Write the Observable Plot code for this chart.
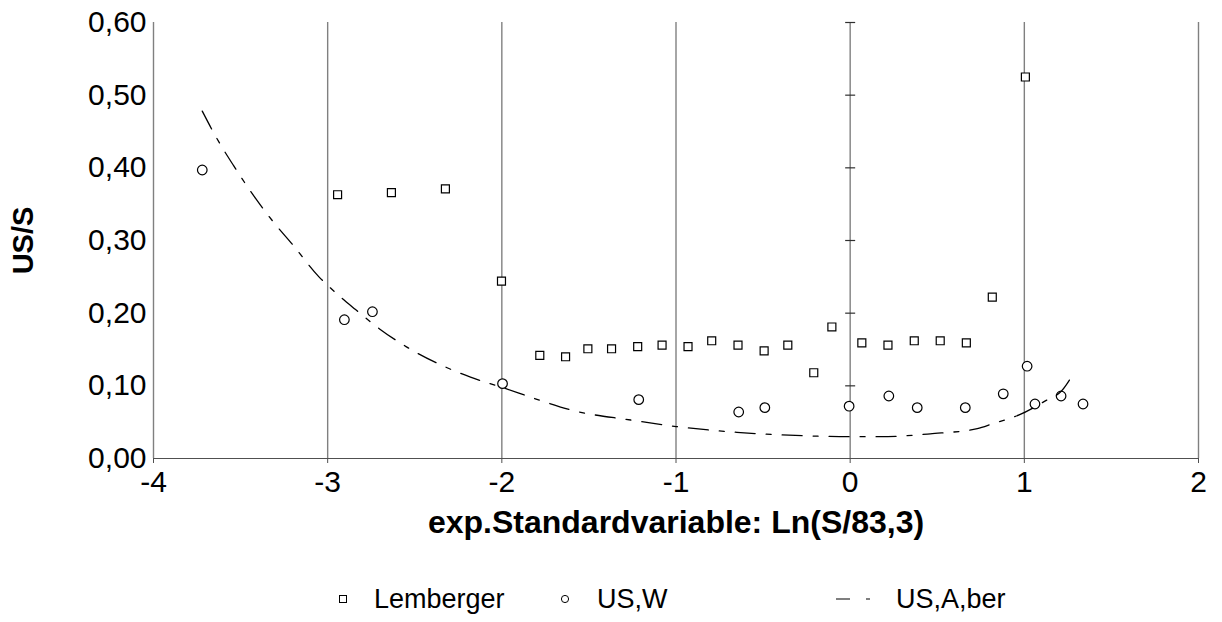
<!DOCTYPE html>
<html>
<head>
<meta charset="utf-8">
<script src="https://cdn.jsdelivr.net/npm/d3@7"></script>
<script src="https://cdn.jsdelivr.net/npm/@observablehq/plot@0.6"></script>
<style>
  body { margin: 0; background: #fff; font-family: "Liberation Sans", Arial, sans-serif; }
  #legend { position: relative; width: 1222px; height: 62px; }
  #legend .lab { position: absolute; font-size: 27px; line-height: 27px; color: #000; white-space: nowrap; }
  #legend svg { position: absolute; overflow: visible; }
</style>
</head>
<body>
<div id="chart"></div>
<div id="legend"></div>
<script>
// Axis ticks
const xTicks = [-4, -3, -2, -1, 0, 1, 2];
const yTicks = [0, 0.1, 0.2, 0.3, 0.4, 0.5, 0.6];

// Lemberger (squares)
const lembergerX = [-2.943, -2.634, -2.324, -2.002, -1.782, -1.634, -1.506, -1.370, -1.220, -1.080, -0.931, -0.795,
                    -0.644, -0.494, -0.358, -0.209, -0.105, 0.067, 0.217, 0.368, 0.517, 0.667, 0.816, 1.006];
const lembergerY = [0.363, 0.366, 0.371, 0.244, 0.142, 0.140, 0.151, 0.151, 0.154, 0.156, 0.154, 0.162,
                    0.156, 0.148, 0.156, 0.118, 0.181, 0.159, 0.156, 0.162, 0.162, 0.159, 0.222, 0.525];

// US,W (circles)
const usWX = [-3.720, -2.904, -2.743, -1.996, -1.214, -0.640, -0.490, -0.006, 0.222, 0.385, 0.661, 0.879,
              1.016, 1.061, 1.211, 1.337];
const usWY = [0.397, 0.191, 0.202, 0.103, 0.081, 0.064, 0.070, 0.072, 0.086, 0.070, 0.070, 0.089,
              0.127, 0.075, 0.086, 0.075];

// US,A,ber (dash-dot curve)
const usAberX = [-3.72, -3.64, -3.54, -3.42, -3.31, -3.20, -3.05, -2.99, -2.84, -2.70, -2.55, -2.37, -2.18,
                 -2.00, -1.78, -1.59, -1.26, -1.00, -0.65, -0.23, 0.00, 0.17, 0.46, 0.73, 0.82, 0.97, 1.14, 1.21, 1.27];
const usAberY = [0.478, 0.442, 0.403, 0.360, 0.325, 0.294, 0.250, 0.236, 0.205, 0.178, 0.154, 0.131, 0.112,
                 0.098, 0.080, 0.066, 0.053, 0.044, 0.036, 0.031, 0.030, 0.030, 0.034, 0.041, 0.048, 0.060, 0.082, 0.092, 0.112];

const xTitle = "exp.Standardvariable: Ln(S/83,3)";
const yTitle = "US/S";
const seriesNames = ["Lemberger", "US,W", "US,A,ber"];

const lemberger = lembergerX.map((x, i) => ({x, y: lembergerY[i]}));
const usW = usWX.map((x, i) => ({x, y: usWY[i]}));
const usAber = usAberX.map((x, i) => ({x, y: usAberY[i]}));

const fmtY = d => d.toFixed(2).replace(".", ",");
const fmtX = d => String(d);
// short horizontal tick drawn as a custom symbol on the x = 0 line
const hline = {
  draw(ctx, size) {
    const r = Math.sqrt(size / Math.PI);
    ctx.moveTo(-r, 0);
    ctx.lineTo(r, 0);
  }
};

const chart = Plot.plot({
  width: 1222,
  height: 560,
  marginLeft: 153,
  marginRight: 24,
  marginTop: 22,
  marginBottom: 102,
  style: {fontFamily: "'Liberation Sans', Arial, sans-serif", fontSize: "30px", background: "#fff", color: "#000", overflow: "visible"},
  x: {domain: [-4, 2]},
  y: {domain: [0, 0.6]},
  marks: [
    Plot.ruleX(xTicks, {stroke: "#808080", strokeWidth: 1.4}),
    Plot.ruleY([0], {stroke: "#505050", strokeWidth: 1.2}),
    Plot.dot(yTicks.filter(v => v > 0), {x: () => 0, y: d => d, symbol: hline, r: 5, stroke: "#303030", strokeWidth: 1.2}),
    Plot.axisX({ticks: xTicks, tickSize: 5, tickPadding: 7, tickFormat: fmtX, stroke: "#505050", label: null, fontSize: 30}),
    Plot.axisY({ticks: yTicks, tickSize: 0, tickPadding: 7, tickFormat: fmtY, label: null, fontSize: 30}),
    Plot.dot(lemberger, {x: "x", y: "y", symbol: "square", r: 4.5, stroke: "#000", strokeWidth: 1.2, fill: "#fff"}),
    Plot.dot(usW, {x: "x", y: "y", symbol: "circle", r: 4.8, stroke: "#000", strokeWidth: 1.2, fill: "#fff"}),
    Plot.line(usAber, {x: "x", y: "y", stroke: "#000", strokeWidth: 1.3, strokeDasharray: "20,11,5,11", curve: "monotone-x"}),
    Plot.text([xTitle], {frameAnchor: "bottom", lineAnchor: "middle", textAnchor: "middle", dy: 64, fontWeight: "bold", fontSize: 32}),
    Plot.text([yTitle], {frameAnchor: "left", lineAnchor: "middle", textAnchor: "middle", dx: -130, rotate: -90, fontWeight: "bold", fontSize: 29})
  ]
});
document.getElementById("chart").appendChild(chart);

// Legend below the plot
const legend = document.getElementById("legend");
const cy = 39;
function addSvg(left, width, inner) {
  const s = document.createElementNS("http://www.w3.org/2000/svg", "svg");
  s.setAttribute("width", width);
  s.setAttribute("height", 12);
  s.style.left = left + "px";
  s.style.top = (cy - 6) + "px";
  s.innerHTML = inner;
  legend.appendChild(s);
}
function addLabel(left, text) {
  const d = document.createElement("div");
  d.className = "lab";
  d.textContent = text;
  d.style.left = left + "px";
  d.style.top = (cy - 13.2) + "px";
  legend.appendChild(d);
}
addSvg(338, 12, '<rect x="1.5" y="2.5" width="7" height="7" fill="#fff" stroke="#000" stroke-width="1"/>');
addLabel(374, seriesNames[0]);
addSvg(560, 12, '<circle cx="5" cy="6" r="3.6" fill="#fff" stroke="#000" stroke-width="1"/>');
addLabel(597, seriesNames[1]);
addSvg(836, 40, '<line x1="0" y1="6" x2="34" y2="6" stroke="#000" stroke-width="1.2" stroke-dasharray="14,16,4,20"/>');
addLabel(896, seriesNames[2]);
</script>
</body>
</html>
